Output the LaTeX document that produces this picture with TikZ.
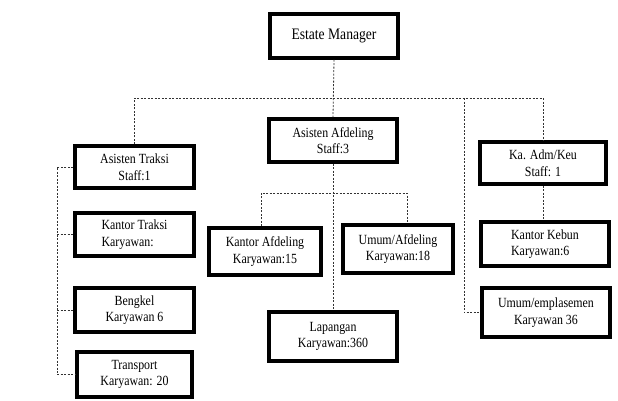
\documentclass[tikz,border=0pt]{standalone}
\usepackage{fontspec}
\setmainfont[FakeStretch=0.85]{Liberation Serif}
\usepackage{tikz}
\usetikzlibrary{positioning}

\begin{document}
\begin{tikzpicture}[x=1pt, y=-1pt,
    box/.style={draw, line width=3.2pt, align=center, inner sep=2pt,
                font=\fontsize{14}{16.5}\selectfont},
    link/.style={draw=black!80, line width=0.8pt, dash pattern=on 2pt off 1.5pt}]
  \useasboundingbox (0,0) rectangle (618,400);
  % top level
  \node[box, minimum width=128, minimum height=44, font=\fontsize{16}{18}\selectfont] (em) at (334,36) {Estate Manager};
  \node[box, minimum width=128, minimum height=43] (aa) at (333,140.5) {Asisten Afdeling\\Staff:3};
  \node[box, minimum width=119, minimum height=42] (at) at (134.5,167) {Asisten Traksi\\Staff:1};
  \node[box, minimum width=126, minimum height=42] (ka) at (543,163) {Ka. Adm/Keu\\Staff: 1};

  % traksi column
  \node[box, align=left, minimum width=119, minimum height=43] (kt) at (134.5,234.5) {Kantor Traksi\\Karyawan:};
  \node[box, minimum width=119, minimum height=44] (bk) at (134.5,310) {Bengkel\\Karyawan 6};
  \node[box, minimum width=115, minimum height=45] (tr) at (134.5,374.5) {Transport\\Karyawan: 20};

  % afdeling column
  \node[box, minimum width=112, minimum height=47] (kaf) at (265,251.5) {Kantor Afdeling\\Karyawan:15};
  \node[box, minimum width=110, minimum height=48] (uaf) at (398,249) {Umum/Afdeling\\Karyawan:18};
  \node[box, minimum width=128, minimum height=49] (lp) at (333,336.5) {Lapangan\\Karyawan:360};

  % adm/keu column
  \node[box, align=left, minimum width=128, minimum height=44] (kk) at (545,244) {Kantor Kebun\\Karyawan:6};
  \node[box, minimum width=128, minimum height=49] (ue) at (546,312.5) {Umum/emplasemen\\Karyawan 36};

  % dashed lines
  \coordinate (bus) at (333,98);
  \coordinate (rbus) at (464,98);
  \coordinate (tk) at (57,167);
  \coordinate (afd) at (333,193);
  \draw[link] (em.south) -- (aa.north);
  \draw[link] (at.north) |- (bus) -| (ka.north);
  \draw[link] (rbus) |- (ue.west);
  \draw[link] (at.west) -- (tk) |- (tr.west);
  \draw[link] (tk |- kt.west) -- (kt.west);
  \draw[link] (tk |- bk.west) -- (bk.west);
  \draw[link] (aa.south) -- (lp.north);
  \draw[link] ([xshift=-4pt]kaf.north) |- (afd) -| ([xshift=9pt]uaf.north);
  \draw[link] (ka.south) -- (ka.south |- kk.north);
\end{tikzpicture}
\end{document}
